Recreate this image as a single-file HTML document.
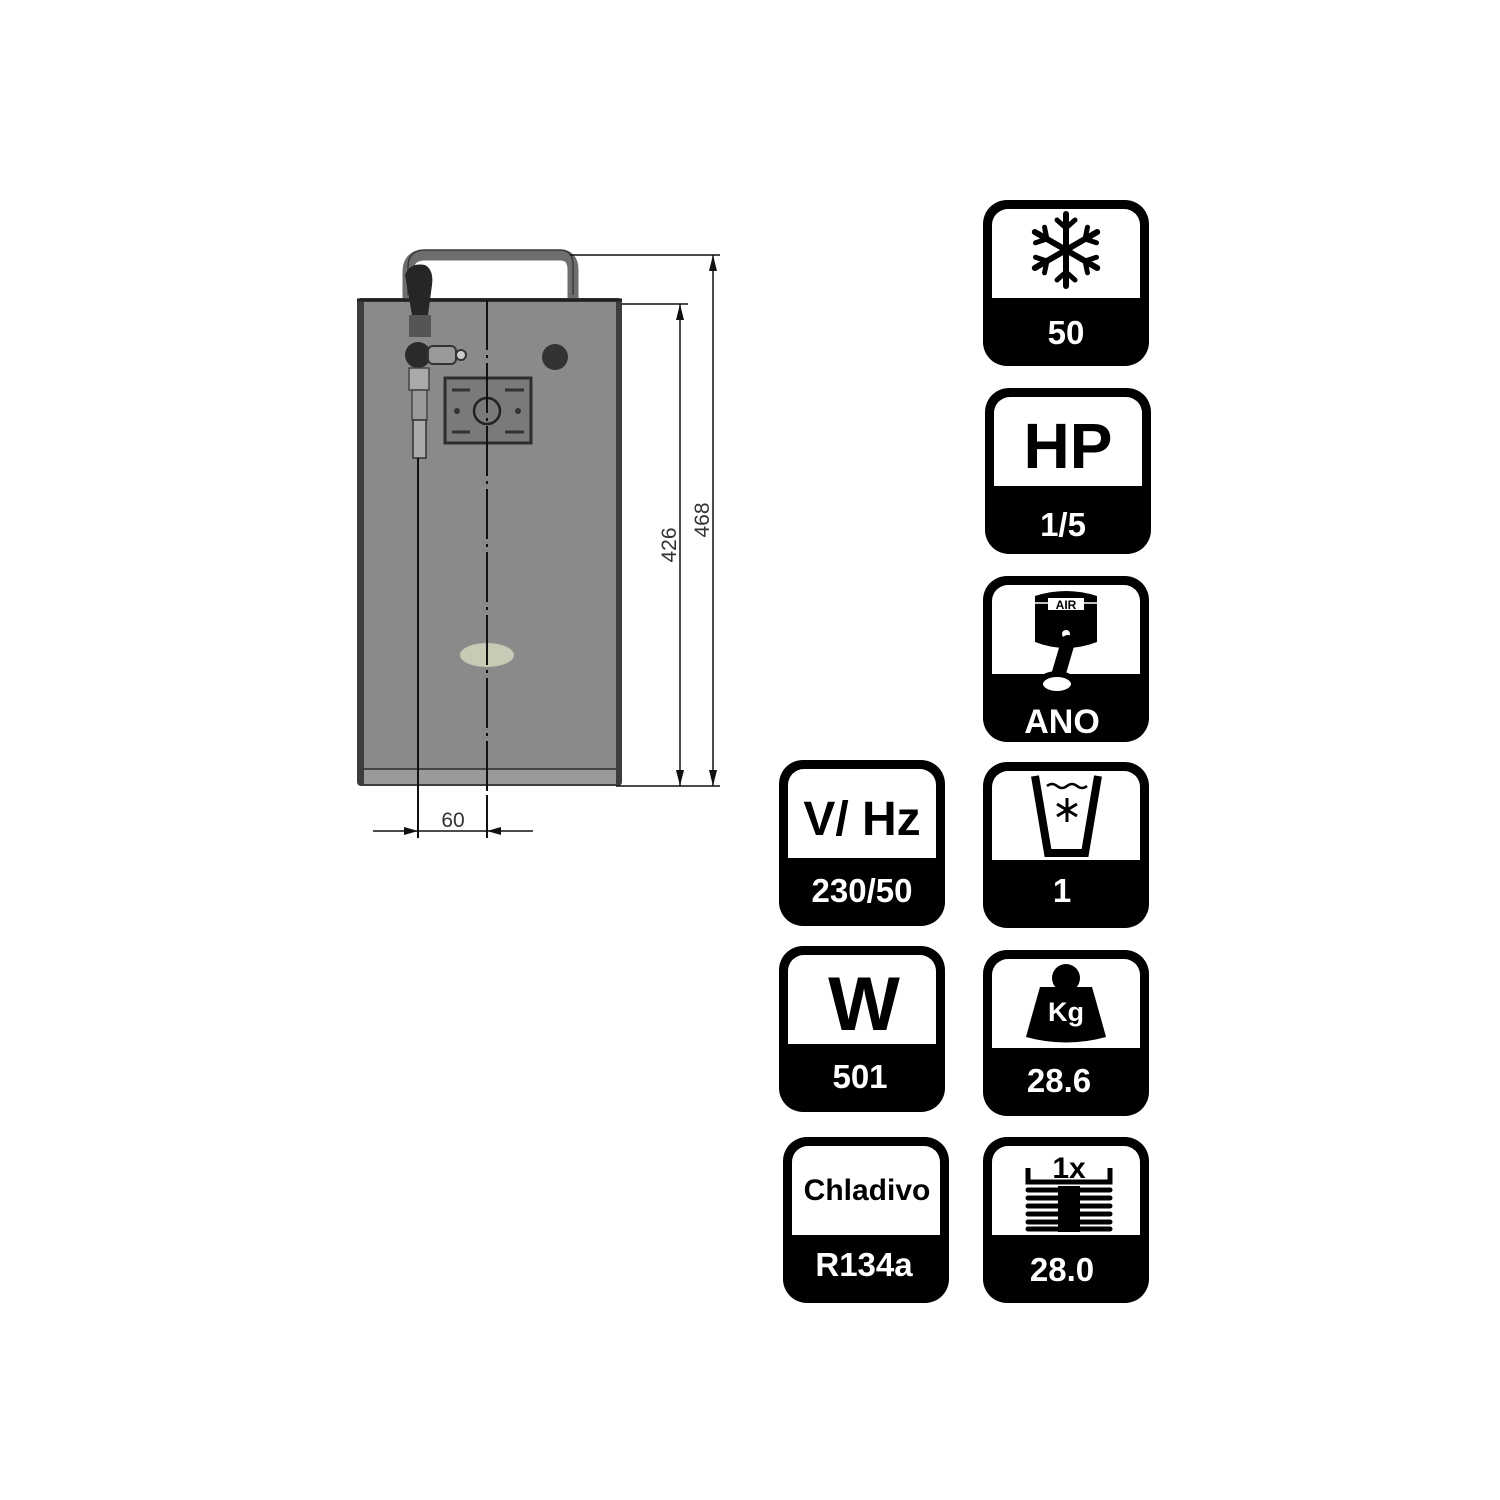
<!DOCTYPE html>
<html><head><meta charset="utf-8"><style>
html,body{margin:0;padding:0;background:#fff}
svg{display:block}
text{font-family:"Liberation Sans","DejaVu Sans",sans-serif}
</style></head><body>
<svg width="1500" height="1500" viewBox="0 0 1500 1500" xmlns="http://www.w3.org/2000/svg">
<rect width="1500" height="1500" fill="#fff"/>
<!-- handle -->
<path d="M408 300 L408 272 Q408 255 425 255 L560 255 Q573 255 573 270 L573 300" fill="none" stroke="#6e6e6e" stroke-width="11"/>
<path d="M408 300 L408 272 Q408 255 425 255 L560 255 Q573 255 573 270 L573 300" fill="none" stroke="#3a3a3a" stroke-width="1.5" transform="translate(0,-5)"/>
<!-- body -->
<rect x="357" y="298" width="265" height="488" rx="4" fill="#3d3d3d"/>
<rect x="364" y="302" width="252" height="466" fill="#8a8a8a"/>
<rect x="364" y="770" width="252" height="14" fill="#9a9a9a"/>
<line x1="357" y1="300" x2="622" y2="300" stroke="#222" stroke-width="3"/>
<line x1="364" y1="769" x2="616" y2="769" stroke="#444" stroke-width="2"/>
<!-- logo -->
<ellipse cx="487" cy="655" rx="27" ry="12" fill="#c8cab6"/>
<!-- knob -->
<circle cx="555" cy="357" r="13" fill="#333"/>
<!-- control plate -->
<rect x="445" y="378" width="86" height="65" fill="#7a7a7a" stroke="#2d2d2d" stroke-width="3"/>
<line x1="452" y1="390" x2="470" y2="390" stroke="#333" stroke-width="3"/>
<line x1="505" y1="390" x2="524" y2="390" stroke="#333" stroke-width="3"/>
<line x1="452" y1="432" x2="470" y2="432" stroke="#333" stroke-width="3"/>
<line x1="505" y1="432" x2="524" y2="432" stroke="#333" stroke-width="3"/>
<circle cx="487" cy="411" r="13" fill="none" stroke="#222" stroke-width="2.5"/>
<circle cx="457" cy="411" r="3" fill="#333"/><circle cx="518" cy="411" r="3" fill="#333"/>
<!-- tap -->
<path d="M405 275 Q410 262 425 265 Q434 270 432 285 L428 315 L412 315 Z" fill="#262626"/>
<rect x="409" y="315" width="22" height="22" fill="#555"/>
<circle cx="418" cy="355" r="13" fill="#2a2a2a"/>
<rect x="428" y="346" width="28" height="18" rx="5" fill="#9a9a9a" stroke="#333" stroke-width="2"/>
<circle cx="461" cy="355" r="5" fill="#ccc" stroke="#333" stroke-width="2"/>
<rect x="409" y="368" width="20" height="22" fill="#a9a9a9" stroke="#444" stroke-width="1.5"/>
<rect x="412" y="390" width="15" height="30" fill="#999" stroke="#444" stroke-width="1.5"/>
<rect x="413" y="420" width="13" height="38" fill="#aaa" stroke="#333" stroke-width="1.5"/>
<!-- center lines -->
<line x1="487" y1="300" x2="487" y2="810" stroke="#111" stroke-width="2" stroke-dasharray="50,5,3,5"/>
<line x1="418" y1="458" x2="418" y2="838" stroke="#111" stroke-width="2"/>
<line x1="487" y1="795" x2="487" y2="838" stroke="#111" stroke-width="2"/>
<!-- bottom dim -->
<line x1="373" y1="831" x2="533" y2="831" stroke="#111" stroke-width="1.5"/>
<path d="M418 831 l-14 -4 v8 z M487 831 l14 -4 v8 z" fill="#111"/>
<text x="453" y="827" font-size="21" text-anchor="middle" fill="#333">60</text>
<!-- vertical dims -->
<line x1="570" y1="255" x2="720" y2="255" stroke="#111" stroke-width="1.5"/>
<line x1="622" y1="304" x2="688" y2="304" stroke="#111" stroke-width="1.5"/>
<line x1="616" y1="786" x2="720" y2="786" stroke="#111" stroke-width="1.5"/>
<line x1="680" y1="304" x2="680" y2="786" stroke="#111" stroke-width="1.5"/>
<line x1="713" y1="255" x2="713" y2="786" stroke="#111" stroke-width="1.5"/>
<path d="M680 304 l-4 16 h8 z M680 786 l-4 -16 h8 z M713 255 l-4 16 h8 z M713 786 l-4 -16 h8 z" fill="#111"/>
<text transform="translate(676,545) rotate(-90)" font-size="21" text-anchor="middle" fill="#333">426</text>
<text transform="translate(709,520) rotate(-90)" font-size="21" text-anchor="middle" fill="#333">468</text>

<!-- boxes -->
<defs>
<g id="bx">
<rect x="0" y="0" width="166" height="166" rx="24" fill="#000"/>
<rect x="9" y="9" width="148" height="89" rx="16" fill="#fff"/>
<rect x="9" y="60" width="148" height="38" fill="#fff"/>
</g>
</defs>
<g font-weight="bold" text-anchor="middle">
<use href="#bx" x="983" y="200"/>
<text x="1066" y="344" font-size="33" fill="#fff">50</text>
<g stroke="#000" stroke-width="6" stroke-linecap="round" transform="translate(1066,250)">
<g id="arm"><line x1="0" y1="-36" x2="0" y2="36"/><path d="M-9 -30 L0 -22 L9 -30 M-9 30 L0 22 L9 30" fill="none" stroke-width="5"/></g>
<use href="#arm" transform="rotate(60)"/><use href="#arm" transform="rotate(-60)"/>
</g>

<use href="#bx" x="985" y="388"/>
<text x="1068" y="468" font-size="64" fill="#000">HP</text>
<text x="1063" y="536" font-size="33" fill="#fff">1/5</text>

<use href="#bx" x="983" y="576"/>
<text x="1062" y="733" font-size="34" fill="#fff">ANO</text>
<path d="M1035 596 Q1066 586 1097 596 L1097 642 Q1066 654 1035 642 Z" fill="#000"/>
<rect x="1048" y="598" width="36" height="12" fill="#fff"/>
<text x="1066" y="609" font-size="12" fill="#000">AIR</text>
<line x1="1035" y1="603" x2="1048" y2="603" stroke="#fff" stroke-width="1.5"/>
<line x1="1084" y1="603" x2="1097" y2="603" stroke="#fff" stroke-width="1.5"/>
<circle cx="1066" cy="634" r="4" fill="#fff"/>
<line x1="1068" y1="642" x2="1058" y2="676" stroke="#000" stroke-width="14" stroke-linecap="round"/>
<ellipse cx="1057" cy="684" rx="17" ry="10" fill="#fff" stroke="#000" stroke-width="6"/>

<use href="#bx" x="983" y="762"/>
<text x="1062" y="902" font-size="33" fill="#fff">1</text>
<path d="M1035 776 L1048 853 L1085 853 L1098 776" fill="none" stroke="#000" stroke-width="8"/>
<path d="M1047 786 q5 -4 10 0 q5 4 10 0 q5 -4 10 0 q5 4 10 0" fill="none" stroke="#000" stroke-width="2.5"/>
<g stroke="#000" stroke-width="3" transform="translate(1067,810)">
<line x1="0" y1="-12" x2="0" y2="12"/><line x1="-10" y1="-6" x2="10" y2="6"/><line x1="-10" y1="6" x2="10" y2="-6"/></g>

<use href="#bx" x="779" y="760"/>
<text x="862" y="835" font-size="48" fill="#000">V/ Hz</text>
<text x="862" y="902" font-size="33" fill="#fff">230/50</text>

<use href="#bx" x="779" y="946"/>
<text x="864" y="1030" font-size="76" fill="#000">W</text>
<text x="860" y="1088" font-size="33" fill="#fff">501</text>

<use href="#bx" x="983" y="950"/>
<circle cx="1066" cy="978" r="14" fill="#000"/>
<path d="M1040 987 L1092 987 Q1100 1015 1106 1037 Q1066 1048 1026 1037 Q1032 1015 1040 987 Z" fill="#000"/>
<text x="1066" y="1021" font-size="27" fill="#fff">Kg</text>
<text x="1059" y="1092" font-size="33" fill="#fff">28.6</text>

<use href="#bx" x="783" y="1137"/>
<text x="867" y="1200" font-size="30" fill="#000" style="font-weight:600">Chladivo</text>
<text x="864" y="1276" font-size="33" fill="#fff">R134a</text>

<use href="#bx" x="983" y="1137"/>
<text x="1069" y="1178" font-size="30" fill="#000">1x</text>
<path d="M1028 1168 v14 h82 v-14" fill="none" stroke="#000" stroke-width="5"/>
<g stroke="#000" stroke-width="5" stroke-linecap="round">
<line x1="1028" y1="1190" x2="1110" y2="1190"/><line x1="1028" y1="1198" x2="1110" y2="1198"/>
<line x1="1028" y1="1206" x2="1110" y2="1206"/><line x1="1028" y1="1214" x2="1110" y2="1214"/>
<line x1="1028" y1="1222" x2="1110" y2="1222"/><line x1="1028" y1="1229" x2="1110" y2="1229"/>
</g>
<rect x="1058" y="1186" width="22" height="46" fill="#000"/>
<text x="1062" y="1281" font-size="33" fill="#fff">28.0</text>
</g>
</svg>
</body></html>
